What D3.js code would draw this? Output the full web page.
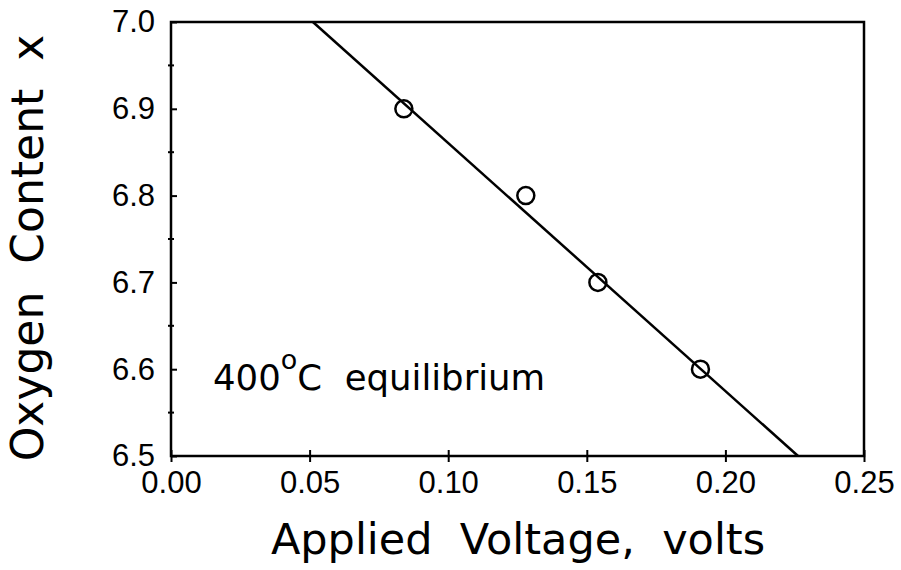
<!DOCTYPE html>
<html lang="en">
<head>
    <meta charset="utf-8">
    <script src="https://cdn.jsdelivr.net/npm/d3@7"></script>
    <style>
        body { margin: 0; background: #fff; }
        text { font-family: "DejaVu Sans", sans-serif; fill: #000; white-space: pre; }
        .tick text { font-family: "Liberation Sans", sans-serif; }
    </style>
</head>
<body>
<script>
    // measured points
    var voltage = [0.084, 0.128, 0.154, 0.191];
    var oxygen = [6.90, 6.80, 6.70, 6.60];

    // fitted line, drawn edge to edge
    var fitVoltage = [0.0512, 0.2262];
    var fitOxygen = [7.0, 6.5];

    var xTicks = [0.00, 0.05, 0.10, 0.15, 0.20, 0.25];
    var yTicks = [6.5, 6.6, 6.7, 6.8, 6.9, 7.0];
    var yMinor = [6.55, 6.65, 6.75, 6.85, 6.95];

    var width = 901, height = 570;
    var plotL = 171, plotR = 864, plotT = 22, plotB = 456;

    var svg = d3.select('body').append('svg')
            .attr('width', width)
            .attr('height', height);

    var x = d3.scaleLinear().domain([0, 0.25]).range([plotL, plotR]);
    var y = d3.scaleLinear().domain([6.5, 7.0]).range([plotB, plotT]);

    // frame
    svg.append('rect')
            .attr('x', plotL).attr('y', plotT)
            .attr('width', plotR - plotL).attr('height', plotB - plotT)
            .attr('fill', 'none').attr('stroke', '#000').attr('stroke-width', 2.5);

    // x axis ticks and labels
    var xAxis = d3.axisBottom(x)
            .tickValues(xTicks)
            .tickFormat(d3.format('.2f'))
            .tickSizeInner(6)
            .tickSizeOuter(0);
    var gx = svg.append('g')
            .attr('transform', 'translate(0,' + plotB + ')')
            .call(xAxis);
    gx.select('.domain').remove();
    gx.selectAll('.tick line').attr('y1', -6).attr('stroke-width', 2);
    gx.selectAll('.tick text')
            .style('font-size', '31px')
            .attr('y', 37)
            .attr('dy', 0);

    // y axis ticks and labels
    var yAxis = d3.axisLeft(y)
            .tickValues(yTicks)
            .tickFormat(d3.format('.1f'))
            .tickSizeInner(6)
            .tickSizeOuter(0)
            .tickPadding(10);
    var gy = svg.append('g')
            .attr('transform', 'translate(' + plotL + ',0)')
            .call(yAxis);
    gy.select('.domain').remove();
    gy.selectAll('.tick line').attr('x2', 6).attr('stroke-width', 2);
    gy.selectAll('.tick text')
            .style('font-size', '31px');

    svg.selectAll('.yminor')
            .data(yMinor)
            .enter()
            .append('line')
            .attr('class', 'yminor')
            .attr('x1', plotL - 3).attr('x2', plotL + 3)
            .attr('y1', function (d) { return y(d); })
            .attr('y2', function (d) { return y(d); })
            .attr('stroke', '#000').attr('stroke-width', 2);

    // fit line
    var fit = fitVoltage.map(function (v, i) { return [v, fitOxygen[i]]; });
    svg.append('path')
            .datum(fit)
            .attr('d', d3.line()
                    .x(function (d) { return x(d[0]); })
                    .y(function (d) { return y(d[1]); }))
            .attr('fill', 'none')
            .attr('stroke', '#000')
            .attr('stroke-width', 2.5);

    // data circles
    svg.selectAll('circle')
            .data(voltage)
            .enter()
            .append('circle')
            .attr('cx', function (d) { return x(d); })
            .attr('cy', function (d, i) { return y(oxygen[i]); })
            .attr('r', 8.5)
            .attr('fill', 'none')
            .attr('stroke', '#000')
            .attr('stroke-width', 2.5);

    // annotation
    var note = svg.append('text')
            .attr('x', 213)
            .attr('y', 390)
            .style('font-size', '35.5px');
    note.append('tspan').text('400');
    note.append('tspan').attr('dy', -21).style('font-size', '27px').text('o');
    note.append('tspan').attr('dy', 21).text('C  equilibrium');

    // axis titles
    svg.append('text')
            .attr('x', 518)
            .attr('y', 554)
            .attr('text-anchor', 'middle')
            .style('font-size', '43px')
            .text('Applied  Voltage,  volts');

    svg.append('text')
            .attr('transform', 'translate(43,248) rotate(-90)')
            .attr('text-anchor', 'middle')
            .style('font-size', '44px')
            .text('Oxygen  Content  x');
</script>
</body>
</html>
